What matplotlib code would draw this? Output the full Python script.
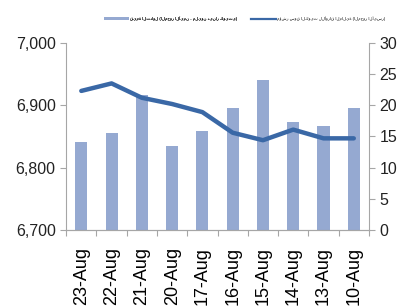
import matplotlib
matplotlib.use('Agg')
import matplotlib.pyplot as plt
from matplotlib.lines import Line2D
import numpy as np

plt.rcParams['font.family'] = ['Liberation Sans', 'DejaVu Sans']

# data
dates = ['23-Aug', '22-Aug', '21-Aug', '20-Aug', '17-Aug',
         '16-Aug', '15-Aug', '14-Aug', '13-Aug', '10-Aug']
traded_value = [14.1, 15.5, 21.7, 13.4, 15.9, 19.6, 24.0, 17.3, 16.6, 19.6]
index_value = [6923, 6935, 6912, 6902, 6889, 6856, 6844, 6861, 6847, 6847]

bar_label = 'قيمة التداول (المحور الأيمن - مليون دينار كويتي)'
line_label = 'مؤشر سوق الكويت للأوراق المالية (المحور الأيسر)'

bar_color = '#95A9D1'
line_color = '#3A68A6'
spine_color = '#A6A6A6'

fig = plt.figure(figsize=(4.01, 3.06), dpi=100)
ax = fig.add_axes([0.165, 0.248, 0.755, 0.612])
ax2 = ax.twinx()

x = np.arange(len(dates))

# bars on the right axis
bars = ax2.bar(x, traded_value, width=0.4, color=bar_color, zorder=2)
ax2.set_ylim(0, 30)
ax2.set_yticks(np.arange(0, 31, 5))

# line on the left axis, drawn on top
ax.set_zorder(ax2.get_zorder() + 1)
ax.patch.set_visible(False)
ax.plot(x, index_value, color=line_color, lw=3.2,
        solid_capstyle='round', solid_joinstyle='round')
ax.set_ylim(6700, 7000)
ax.set_yticks([6700, 6800, 6900, 7000])
ax.set_yticklabels(['6,700', '6,800', '6,900', '7,000'])
ax.set_xlim(-0.5, len(dates) - 0.5)

# category boundary ticks, labels at centres
ax.set_xticks(np.arange(-0.5, len(dates), 1.0))
ax.set_xticklabels([])
ax.set_xticks(x, minor=True)
ax.set_xticklabels(dates, minor=True, rotation=90, fontsize=13)
ax.tick_params(axis='x', which='minor', length=0, pad=12)
ax.tick_params(axis='x', which='major', length=4, color=spine_color)

for a in (ax, ax2):
    a.spines['top'].set_visible(False)
    for s in ('left', 'right', 'bottom'):
        a.spines[s].set_color(spine_color)
    a.tick_params(axis='y', length=4, color=spine_color, labelsize=11.5,
                  labelcolor='#222222')
ax2.spines['left'].set_visible(False)
ax.spines['right'].set_visible(False)

# two small legend entries at the top
leg_kw = dict(loc='center left', frameon=False, fontsize=3, handlelength=6,
              handletextpad=0.3, borderpad=0, borderaxespad=0)
leg1 = fig.legend([bars], [bar_label], bbox_to_anchor=(0.259, 0.938), **leg_kw)
fig.add_artist(leg1)
line_handle = Line2D([], [], color=line_color, lw=1.6)
fig.legend([line_handle], [line_label], bbox_to_anchor=(0.626, 0.938), **leg_kw)

fig.savefig('out.png', dpi=100)
